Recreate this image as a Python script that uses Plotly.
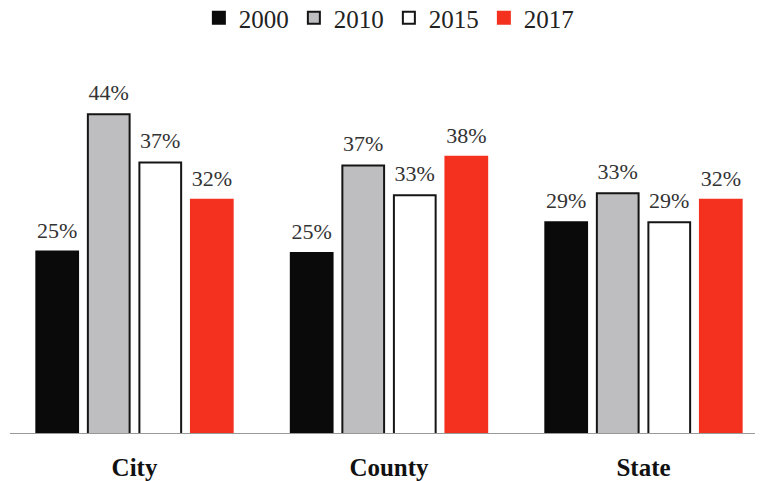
import plotly.graph_objects as go

categories = ["City", "County", "State"]
years = ["2000", "2010", "2015", "2017"]
v2000 = [25.0, 24.8, 29.0]
v2010 = [43.8, 36.8, 33.0]
v2015 = [37.2, 32.7, 29.0]
v2017 = [32.1, 38.0, 32.1]
series = [v2000, v2010, v2015, v2017]

fills = ["#0a0a0a", "#bebec0", "#ffffff", "#f4301f"]
lines = ["#0a0a0a", "#151515", "#151515", "#f4301f"]
serif = "Liberation Serif, Times New Roman, serif"

fig = go.Figure()
for i, (name, vals, fc, lc) in enumerate(zip(years, series, fills, lines)):
    fig.add_trace(go.Bar(
        x=categories, y=vals, name=name, offsetgroup=str(i),
        marker=dict(color=fc, line=dict(color=lc, width=2)),
    ))
for i, vals in enumerate(series):
    fig.add_trace(go.Scatter(
        x=categories, y=vals, offsetgroup=str(i), mode="text+markers",
        marker=dict(size=12, opacity=0), showlegend=False, hoverinfo="skip",
        text=[f"{round(v)}%" for v in vals], textposition="top center",
        textfont=dict(family=serif, size=22, color="#333333"), cliponaxis=False,
    ))

W, H = 761, 481
fig.update_layout(
    width=W, height=H,
    margin=dict(l=0, r=0, t=80, b=47, autoexpand=False),
    paper_bgcolor="white", plot_bgcolor="white",
    barmode="group", bargap=0.19, bargroupgap=0.19,
    scattermode="group", scattergap=0.19,
    showlegend=True,
    legend=dict(orientation="h", x=0.511, xanchor="center", y=1.175, yanchor="middle",
                font=dict(family=serif, size=25, color="#222222"),
                itemwidth=30, tracegroupgap=0, itemclick=False),
    xaxis=dict(range=[-0.5285, 2.4617], showgrid=False, showline=False, zeroline=False,
               ticks="", ticklabelstandoff=16,
               tickfont=dict(family=serif, size=25, color="#111111", weight="bold")),
    yaxis=dict(range=[0, 48.5], visible=False, showgrid=False, zeroline=False),
    shapes=[dict(type="line", xref="paper", yref="y", x0=10/W, x1=755/W, y0=0, y1=0,
                 line=dict(color="#999999", width=2))],
)
fig.write_html("out.html", config={"displayModeBar": False},
               post_script="document.body.style.margin='0';document.body.style.overflow='hidden';")
